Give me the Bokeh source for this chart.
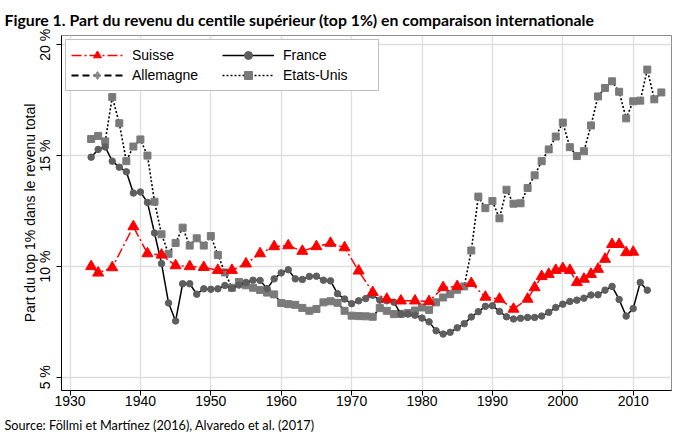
from bokeh.plotting import figure
from bokeh.models import Legend, LegendItem, FixedTicker, Title, Range1d
from bokeh.embed import file_html
from bokeh.resources import INLINE

# ---------------- data ----------------
suisse_years = [1933, 1934, 1936, 1939, 1941, 1943, 1945, 1947, 1949,
                1951, 1953, 1955, 1957, 1959, 1961, 1963, 1965, 1967, 1969,
                1971, 1973, 1975, 1977, 1979, 1981, 1983, 1985, 1987, 1989, 1991, 1993, 1995,
                1996, 1997, 1998, 1999, 2000, 2001, 2002, 2003, 2004, 2005, 2006, 2007, 2008, 2009, 2010]
suisse = [10.0, 9.71, 9.95, 11.8, 10.58, 10.52, 10.04, 10.0, 9.96,
          9.83, 9.83, 10.12, 10.58, 10.9, 10.94, 10.69, 10.9, 11.05, 10.85,
          9.8, 8.83, 8.53, 8.45, 8.45, 8.42, 9.05, 9.1, 9.24, 8.62, 8.53, 8.08, 8.53,
          9.05, 9.55, 9.65, 9.83, 9.91, 9.83, 9.28, 9.43, 9.65, 9.88, 10.33, 11.0, 11.0, 10.63, 10.65]

france_years = list(range(1933, 2013))
france = [14.93, 15.28, 15.39, 14.75, 14.48, 14.27, 13.31, 13.36, 12.89, 11.51,
          10.13, 8.35, 7.54, 9.22, 9.22, 8.75, 8.99, 8.97,
          8.99, 9.14, 9.02, 9.16, 9.28, 9.38, 9.37, 9.0, 9.44, 9.71,
          9.85, 9.44, 9.41, 9.55, 9.56, 9.38, 9.35, 8.77, 8.53, 8.32,
          8.45, 8.55, 8.7, 8.48, 8.45, 8.39, 7.85, 7.85, 7.8, 7.67,
          7.5, 7.1, 6.95, 7.03, 7.23, 7.42, 7.72, 7.96, 8.2, 8.23,
          7.97, 7.73, 7.63, 7.66, 7.7, 7.7, 7.76, 7.93, 8.15, 8.3,
          8.42, 8.48, 8.57, 8.71, 8.72, 8.93, 9.1, 8.51, 7.76, 8.1,
          9.28, 8.93]

us_years = list(range(1933, 2015))
us = [15.75, 15.89, 15.64, 17.64, 16.46, 14.75, 15.41, 15.73, 15.0, 12.92,
      11.45, 10.57, 11.06, 11.75, 10.94, 11.27, 10.94, 11.37,
      10.52, 9.73, 9.04, 9.3, 9.15, 9.04, 8.94, 8.82, 8.74, 8.35,
      8.3, 8.27, 8.13, 8.0, 8.08, 8.38, 8.43, 8.36, 8.0, 7.78,
      7.76, 7.75, 7.73, 8.12, 8.0, 7.85, 7.86, 7.9, 8.01, 8.15,
      8.04, 8.38, 8.6, 8.75, 8.95, 9.1, 10.72, 13.15, 12.63, 12.95,
      12.17, 13.46, 12.83, 12.85, 13.54, 14.11, 14.75, 15.28, 15.86, 16.49,
      15.38, 14.98, 15.2, 16.36, 17.67, 18.05, 18.35, 17.88, 16.68, 17.45,
      17.48, 18.88, 17.54, 17.85]

# Allemagne appears only in the legend (no data drawn in the chart)
allemagne_years = [1930]
allemagne = [float("nan")]

x_ticks = [1930, 1940, 1950, 1960, 1970, 1980, 1990, 2000, 2010]
y_ticks = [5, 10, 15, 20]
y_tick_labels = ["5 %", "10 %", "15 %", "20 %"]

title_text = "Figure 1. Part du revenu du centile supérieur (top 1%) en comparaison internationale"
source_text = "Source: Föllmi et Martínez (2016), Alvaredo et al. (2017)"
y_label = "Part du top 1% dans le revenu total"

# ---------------- figure ----------------
p = figure(width=680, height=439, output_backend="svg", toolbar_location=None,
           x_range=Range1d(1928.79, 2015.44), y_range=Range1d(4.404, 20.418),
           min_border_left=61, min_border_right=9, min_border_top=34, min_border_bottom=49)
p.background_fill_color = "white"
p.border_fill_color = "white"
p.outline_line_color = "#8c8c8c"
p.outline_line_width = 1

AX_FONT = "Liberation Sans"
for ax in (p.xaxis[0], p.yaxis[0]):
    ax.axis_line_color = "black"
    ax.axis_line_width = 1
    ax.major_tick_line_color = "black"
    ax.major_tick_out = 5
    ax.major_tick_in = 0
    ax.minor_tick_line_color = None
    ax.major_label_text_font = AX_FONT
    ax.major_label_text_font_size = "14px"
    ax.major_label_text_color = "black"

p.xaxis.ticker = FixedTicker(ticks=x_ticks)
p.xaxis.major_label_standoff = 0
p.yaxis.ticker = FixedTicker(ticks=y_ticks)
p.yaxis.major_label_overrides = {t: l for t, l in zip(y_ticks, y_tick_labels)}
p.yaxis.major_label_orientation = "vertical"
p.yaxis.major_label_standoff = 3
p.yaxis.axis_label = y_label
p.yaxis.axis_label_text_font = AX_FONT
p.yaxis.axis_label_text_font_size = "14px"
p.yaxis.axis_label_text_font_style = "normal"
p.yaxis.axis_label_text_color = "black"
p.yaxis.axis_label_standoff = -3

p.xgrid.grid_line_color = "#dedede"
p.ygrid.grid_line_color = "#dedede"
p.xgrid.grid_line_width = 1.3
p.ygrid.grid_line_width = 1.3

# ---------------- series ----------------
us_line = p.line(us_years, us, line_color="black", line_width=1.6, line_dash="2 2")
us_pts = p.scatter(us_years, us, marker="square", size=7, fill_color="#7a7a7a", line_color="#7a7a7a")

fr_line = p.line(france_years, france, line_color="black", line_width=1.5)
fr_pts = p.scatter(france_years, france, marker="circle", size=6.5, fill_color="#5e5e5e", line_color="#5e5e5e")

de_line = p.line(allemagne_years, allemagne, line_color="black", line_width=2, line_dash="7 4")
de_pts = p.scatter(allemagne_years, allemagne, marker="diamond", size=11, fill_color="#8a8a8a", line_color="#8a8a8a")

ch_line = p.line(suisse_years, suisse, line_color="#ff0000", line_width=1.5, line_dash="10 3 2 3")
ch_pts = p.scatter(suisse_years, suisse, marker="triangle", size=11, fill_color="#ff0000", line_color="#ff0000")

# column-major legend fill: col 1 = Suisse, Allemagne ; col 2 = France, Etats-Unis
legend = Legend(items=[
    LegendItem(label="Suisse", renderers=[ch_line, ch_pts]),
    LegendItem(label="Allemagne", renderers=[de_line, de_pts]),
    LegendItem(label="France", renderers=[fr_line, fr_pts]),
    LegendItem(label="Etats-Unis", renderers=[us_line, us_pts]),
], ncols=2, location="top_left")
legend.margin = 4
legend.padding = 5
legend.spacing = 0
legend.glyph_width = 52
legend.glyph_height = 20
legend.label_standoff = 9
legend.label_width = 90
legend.label_text_font = AX_FONT
legend.label_text_font_size = "14px"
legend.label_text_color = "black"
legend.border_line_color = "#7f7f7f"
legend.border_line_width = 1
legend.background_fill_color = "white"
legend.background_fill_alpha = 1
p.add_layout(legend)

# ---------------- titles ----------------
t = Title(text=title_text, align="left", text_font="Lato", text_font_style="bold",
          text_font_size="15.8px", text_color="black", offset=-57, standoff=14)
p.add_layout(t, "above")
s = Title(text=source_text, align="left", text_font="Lato", text_font_style="normal",
          text_font_size="12.7px", text_color="black", offset=-57, standoff=13)
p.add_layout(s, "below")

open("out.html", "w").write(file_html(p, INLINE))
